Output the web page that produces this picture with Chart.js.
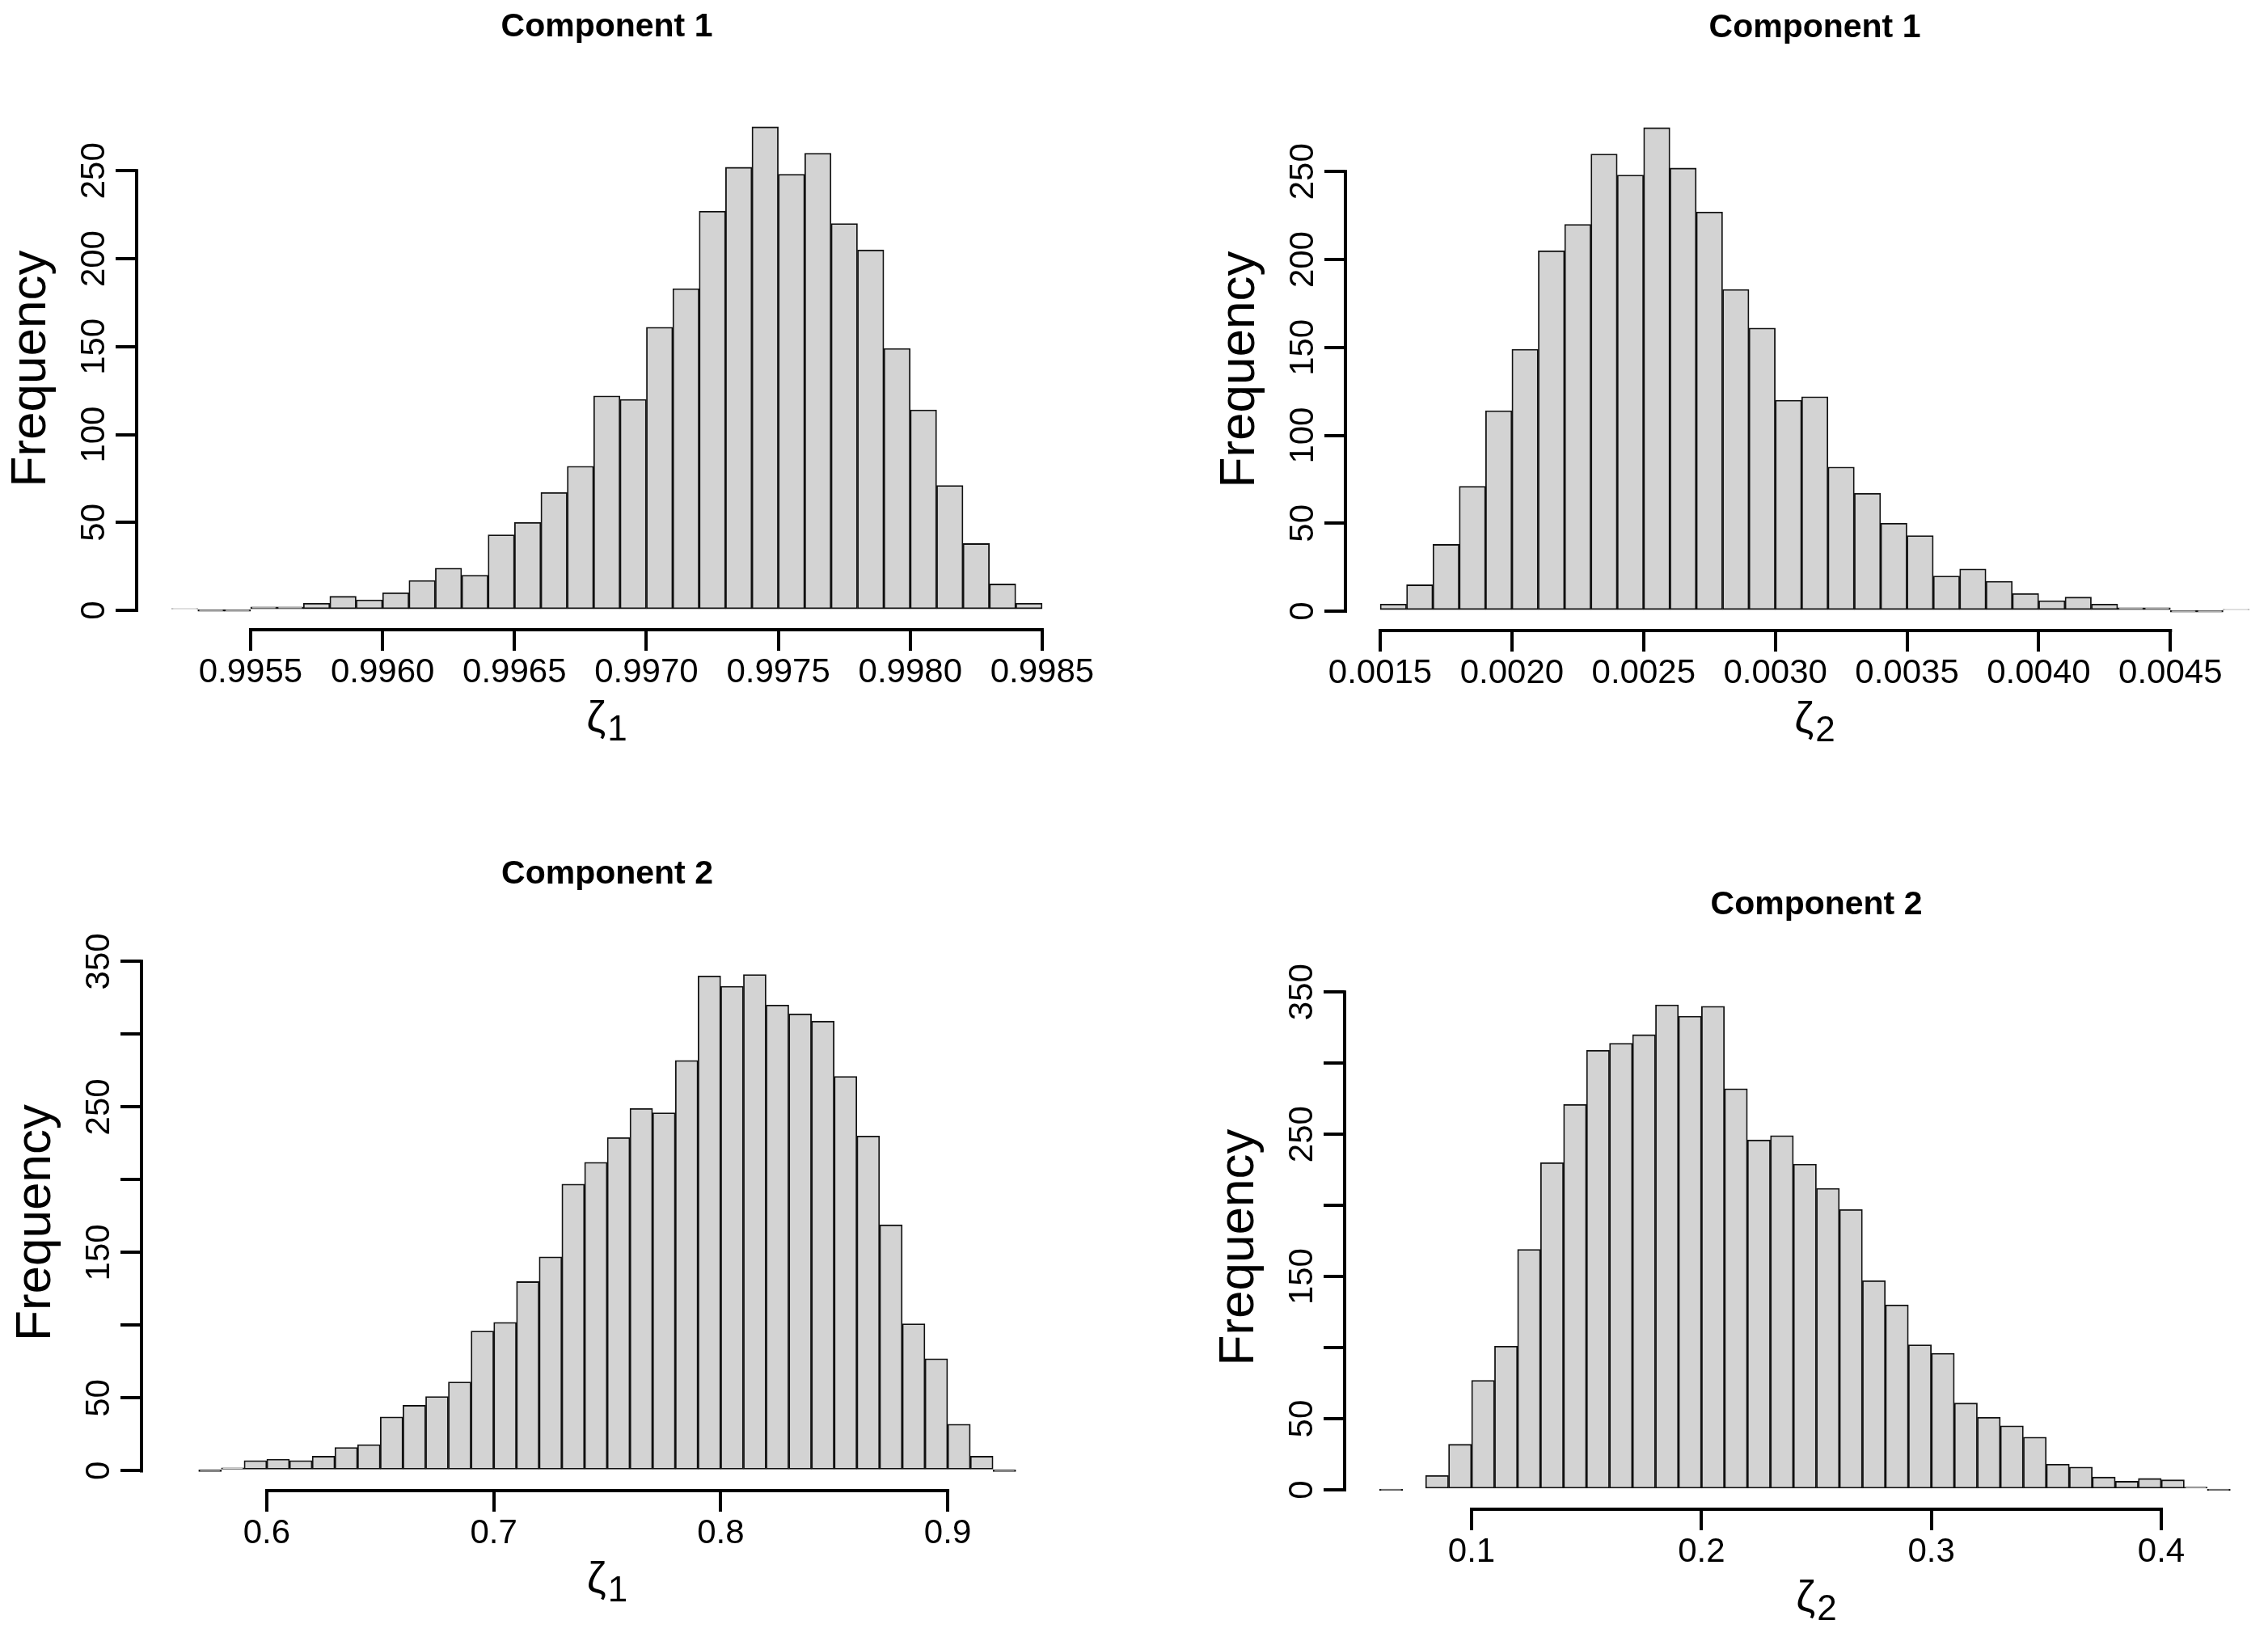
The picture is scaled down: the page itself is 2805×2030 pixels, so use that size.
<!DOCTYPE html>
<html>
<head>
<meta charset="utf-8">
<script src="https://cdn.jsdelivr.net/npm/chart.js@4.4.1/dist/chart.umd.min.js"></script>
<style>
html, body { margin: 0; padding: 0; background: #fff; overflow: hidden; width: 2805px; height: 2030px; }
canvas { position: absolute; }
</style>
</head>
<body>
<canvas id="c1"></canvas>
<canvas id="c2"></canvas>
<canvas id="c3"></canvas>
<canvas id="c4"></canvas>
<script>
// histogram bins: first break + bin width, then the counts
var comp1Z1Start = 0.9952, comp1Z1Width = 0.0001;
var comp1Z1Counts = [1, 0, 0, 2, 2, 4, 8, 6, 10, 17, 24, 20, 43, 50, 67, 82, 122, 120, 161, 183,
    227, 252, 275, 248, 260, 220, 205, 149, 114, 71, 38, 15, 4];
var comp1Z1Ticks = [0.9955, 0.9960, 0.9965, 0.9970, 0.9975, 0.9980, 0.9985];

var comp1Z2Start = 0.0015, comp1Z2Width = 0.0001;
var comp1Z2Counts = [4, 15, 38, 71, 114, 149, 205, 220, 260, 248, 275, 252, 227, 183, 161, 120, 122,
    82, 67, 50, 43, 20, 24, 17, 10, 6, 8, 4, 2, 2, 0, 0, 1];
var comp1Z2Ticks = [0.0015, 0.0020, 0.0025, 0.0030, 0.0035, 0.0040, 0.0045];

var comp2Z1Start = 0.56, comp2Z1Width = 0.01;
var comp2Z1Counts = [1, 0, 2, 7, 8, 7, 10, 16, 18, 37, 45, 51, 61, 96, 102, 130, 147, 197, 212, 229,
    249, 246, 282, 340, 333, 341, 320, 314, 309, 271, 230, 169, 101, 77, 32, 10, 0, 1];
var comp2Z1Ticks = [0.6, 0.7, 0.8, 0.9];

var comp2Z2Start = 0.06, comp2Z2Width = 0.01;
var comp2Z2Counts = [0, 1, 10, 32, 77, 101, 169, 230, 271, 309, 314, 320, 341, 333, 340, 282, 246,
    249, 229, 212, 197, 147, 130, 102, 96, 61, 51, 45, 37, 18, 16, 9, 6, 8, 7, 2, 0, 1];
var comp2Z2Ticks = [0.1, 0.2, 0.3, 0.4];

var freqTicksTop = [0, 50, 100, 150, 200, 250];
var freqTicksBottom = [0, 50, 100, 150, 200, 250, 300, 350];

var FONT = '"Liberation Sans", Arial, Helvetica, sans-serif';

// R style axes: lines only between the outer ticks, rotated y labels, titles
var rAxes = {
    id: 'rAxes',
    afterDraw: function (chart, args, opts) {
        var ctx = chart.ctx, a = chart.chartArea;
        var xs = chart.scales.x, ys = chart.scales.y;
        var xt = xs.ticks, yt = ys.ticks;
        ctx.save();
        ctx.strokeStyle = '#000';
        ctx.lineWidth = 4;
        ctx.lineCap = 'square';
        ctx.beginPath();
        ctx.moveTo(xs.getPixelForValue(xt[0].value), a.bottom);
        ctx.lineTo(xs.getPixelForValue(xt[xt.length - 1].value), a.bottom);
        ctx.moveTo(a.left, ys.getPixelForValue(yt[0].value));
        ctx.lineTo(a.left, ys.getPixelForValue(yt[yt.length - 1].value));
        ctx.stroke();

        ctx.fillStyle = '#000';
        ctx.textAlign = 'center';
        ctx.textBaseline = 'middle';
        ctx.font = '42px ' + FONT;
        yt.forEach(function (t) {
            if (opts.skip.indexOf(t.value) >= 0) return;
            ctx.save();
            ctx.translate(a.left - 52, ys.getPixelForValue(t.value));
            ctx.rotate(-Math.PI / 2);
            ctx.fillText(String(t.value), 0, 0);
            ctx.restore();
        });

        ctx.save();
        ctx.font = '62px ' + FONT;
        ctx.translate(a.left - 130, (a.top + a.bottom) / 2);
        ctx.rotate(-Math.PI / 2);
        ctx.fillText('Frequency', 0, 0);
        ctx.restore();

        var cx = (a.left + a.right) / 2;
        ctx.font = 'bold 41px ' + FONT;
        ctx.fillText(opts.title, cx, a.top - 99);

        // zeta with subscript
        ctx.textBaseline = 'alphabetic';
        ctx.textAlign = 'left';
        ctx.font = '54px ' + FONT;
        var wz = ctx.measureText('\u03b6').width;
        ctx.font = '44px ' + FONT;
        var ws = ctx.measureText(opts.sub).width;
        var x0 = cx - (wz + ws + 2) / 2;
        var base = a.bottom + 126;
        ctx.font = '54px ' + FONT;
        ctx.fillText('\u03b6', x0, base);
        ctx.font = '44px ' + FONT;
        ctx.fillText(opts.sub, x0 + wz + 2, base + 11);
        ctx.restore();
    }
};

function makeHist(id, frame, area, start, width, counts, xTicks, yTicks, digits, opts) {
    var cv = document.getElementById(id);
    cv.width = frame.w;
    cv.height = frame.h;
    cv.style.left = frame.x + 'px';
    cv.style.top = frame.y + 'px';

    var pts = counts.map(function (c, i) {
        return { x: start + (i + 0.5) * width, y: c };
    });
    var lo = start, hi = start + counts.length * width;
    var yMax = Math.max.apply(null, counts);

    return new Chart(cv, {
        type: 'bar',
        data: {
            datasets: [{
                data: pts,
                backgroundColor: '#d3d3d3',
                borderColor: '#111',
                borderWidth: 1.8,
                borderSkipped: false,
                minBarLength: 2,
                barPercentage: 1,
                categoryPercentage: 1
            }]
        },
        options: {
            responsive: false,
            animation: false,
            events: [],
            layout: { padding: { left: 0, top: area.t, right: frame.w - area.r, bottom: 0 } },
            plugins: {
                legend: { display: false },
                tooltip: { enabled: false },
                rAxes: opts
            },
            scales: {
                x: {
                    type: 'linear',
                    offset: false,
                    min: lo - 0.04 * (hi - lo),
                    max: hi + 0.04 * (hi - lo),
                    afterBuildTicks: function (s) {
                        s.ticks = xTicks.map(function (v) { return { value: v }; });
                    },
                    afterFit: function (s) { s.height = frame.h - area.b; },
                    border: { display: false },
                    grid: {
                        offset: false, drawOnChartArea: false, drawTicks: true,
                        tickLength: 26, lineWidth: 4, color: '#000'
                    },
                    ticks: {
                        color: '#000', padding: 2, maxRotation: 0, autoSkip: false,
                        font: { family: FONT, size: 42 },
                        callback: function (v) { return Number(v).toFixed(digits); }
                    }
                },
                y: {
                    min: -0.04 * yMax,
                    max: 1.04 * yMax,
                    afterBuildTicks: function (s) {
                        s.ticks = yTicks.map(function (v) { return { value: v }; });
                    },
                    afterFit: function (s) { s.width = area.l; },
                    border: { display: false },
                    grid: {
                        drawOnChartArea: false, drawTicks: true,
                        tickLength: 26, lineWidth: 4, color: '#000'
                    },
                    ticks: { display: false }
                }
            }
        },
        plugins: [rAxes]
    });
}

makeHist('c1', { x: 0, y: 0, w: 1400, h: 1000 }, { l: 169, t: 133, r: 1332, b: 779 },
    comp1Z1Start, comp1Z1Width, comp1Z1Counts, comp1Z1Ticks, freqTicksTop, 4,
    { title: 'Component 1', sub: '1', skip: [] });
makeHist('c2', { x: 1400, y: 0, w: 1430, h: 1000 }, { l: 264, t: 134, r: 1425, b: 780 },
    comp1Z2Start, comp1Z2Width, comp1Z2Counts, comp1Z2Ticks, freqTicksTop, 4,
    { title: 'Component 1', sub: '2', skip: [] });
makeHist('c3', { x: 0, y: 1000, w: 1400, h: 1030 }, { l: 175, t: 181, r: 1327, b: 844 },
    comp2Z1Start, comp2Z1Width, comp2Z1Counts, comp2Z1Ticks, freqTicksBottom, 1,
    { title: 'Component 2', sub: '1', skip: [100, 200, 300] });
makeHist('c4', { x: 1400, y: 1000, w: 1430, h: 1030 }, { l: 263, t: 219, r: 1430, b: 867 },
    comp2Z2Start, comp2Z2Width, comp2Z2Counts, comp2Z2Ticks, freqTicksBottom, 1,
    { title: 'Component 2', sub: '2', skip: [100, 200, 300] });
</script>
</body>
</html>
